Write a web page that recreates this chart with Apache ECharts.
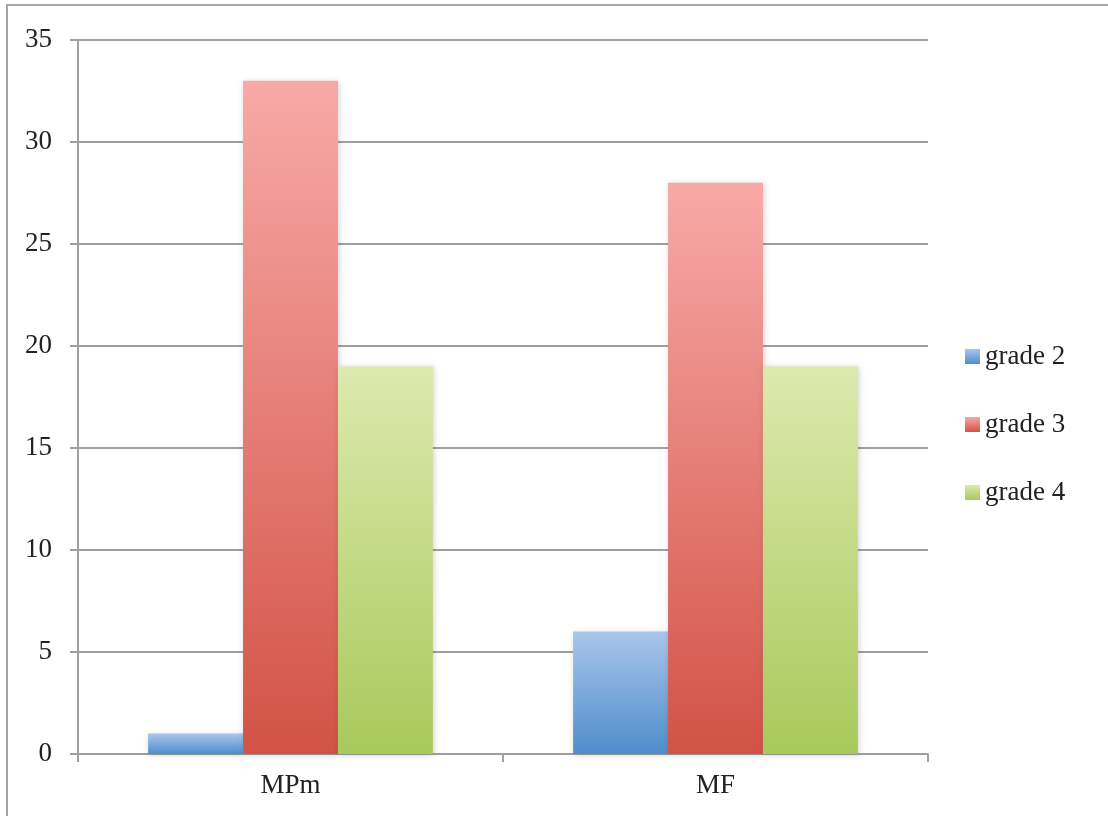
<!DOCTYPE html>
<html>
<head>
<meta charset="utf-8">
<script src="https://cdn.jsdelivr.net/npm/echarts@6/dist/echarts.min.js"></script>
<style>
  html, body { margin: 0; padding: 0; background: #fff; }
  #chart { width: 1108px; height: 816px; }
</style>
</head>
<body>
<div id="chart"></div>
<script>
// data
const categories = ["MPm", "MF"];
const grade2 = [1, 6];
const grade3 = [33, 28];
const grade4 = [19, 19];
const seriesNames = ["grade 2", "grade 3", "grade 4"];

const fontFam = "'Liberation Serif', 'DejaVu Serif', serif";

function grad(top, bottom) {
  return new echarts.graphic.LinearGradient(0, 0, 0, 1, [
    { offset: 0, color: top },
    { offset: 1, color: bottom },
  ]);
}

const colors = [
  grad("#a9c6ea", "#4f8dcc"),
  grad("#f8a9a7", "#d25246"),
  grad("#dde9ae", "#a8c95b"),
];

function makeSeries(name, data, color) {
  return {
    name: name,
    type: "bar",
    data: data,
    barGap: "0%",
    barCategoryGap: "33%",
    itemStyle: {
      color: color,
      shadowColor: "rgba(0,0,0,0.18)",
      shadowBlur: 6,
      shadowOffsetX: 1,
      shadowOffsetY: 1,
    },
  };
}

var myChart = echarts.init(document.getElementById("chart"));
var option = {
  animation: false,
  backgroundColor: "#fff",
  textStyle: { fontFamily: fontFam },
  graphic: [
    {
      type: "rect",
      shape: { x: 7, y: 5, width: 1200, height: 900 },
      style: { fill: "none", stroke: "#a6a6a6", lineWidth: 2 },
      z: -1,
    },
  ],
  legend: {
    orient: "vertical",
    left: 960,
    top: 338,
    itemWidth: 15,
    itemHeight: 15,
    itemGap: 41,
    icon: "rect",
    textStyle: { fontSize: 27, color: "#222", fontFamily: fontFam },
    data: seriesNames,
  },
  grid: {
    left: 78,
    right: 180,
    top: 40,
    bottom: 62,
  },
  xAxis: {
    type: "category",
    data: categories,
    axisLine: { lineStyle: { color: "#a0a0a0", width: 2 } },
    axisTick: { show: true, length: 8, alignWithLabel: false, lineStyle: { color: "#a0a0a0", width: 2 } },
    axisLabel: { fontSize: 27, color: "#222", margin: 18, fontFamily: fontFam },
  },
  yAxis: {
    type: "value",
    min: 0,
    max: 35,
    interval: 5,
    axisLine: { show: true, lineStyle: { color: "#a0a0a0", width: 2 } },
    axisTick: { show: true, length: 8, lineStyle: { color: "#a0a0a0", width: 2 } },
    splitLine: { lineStyle: { color: "#a0a0a0", width: 2 } },
    axisLabel: { fontSize: 27, color: "#222", margin: 26, fontFamily: fontFam },
  },
  series: [
    makeSeries(seriesNames[0], grade2, colors[0]),
    makeSeries(seriesNames[1], grade3, colors[1]),
    makeSeries(seriesNames[2], grade4, colors[2]),
  ],
};
option && myChart.setOption(option);
</script>
</body>
</html>
